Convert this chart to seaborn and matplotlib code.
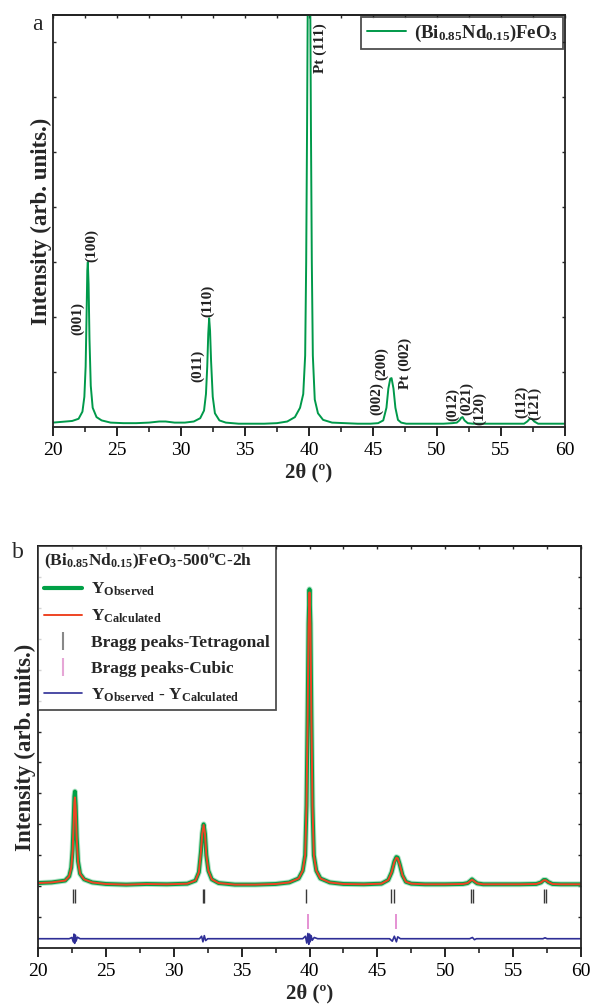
import numpy as np
import pandas as pd
import matplotlib
matplotlib.use("Agg")
import matplotlib.pyplot as plt
from matplotlib.lines import Line2D
import seaborn as sns

# ---------------- data (panel a) ----------------
two_theta_a = [20.0, 20.5, 21.0, 21.5, 22.0, 22.3, 22.45, 22.55, 22.62, 22.68, 22.72, 22.78,
               22.85, 22.95, 23.1, 23.4, 23.8, 24.5, 25.5, 26.5, 27.5, 28.3, 28.8, 29.5,
               30.3, 31.0, 31.5, 31.8, 31.95, 32.05, 32.13, 32.2, 32.27, 32.35, 32.48, 32.65,
               33.0, 33.5, 34.5, 35.5, 36.5, 37.5, 38.3, 38.9, 39.3, 39.55, 39.7, 39.78,
               39.85, 39.92, 40.0, 40.08, 40.15, 40.22, 40.3, 40.45, 40.7, 41.1, 41.8, 42.8,
               43.8, 44.8, 45.4, 45.8, 46.05, 46.2, 46.35, 46.45, 46.6, 46.75, 46.95, 47.2,
               47.6, 48.5, 49.5, 50.5, 51.2, 51.55, 51.75, 51.9, 52.0, 52.15, 52.4, 52.8,
               53.5, 54.5, 55.5, 56.3, 56.8, 57.05, 57.25, 57.4, 57.6, 57.9, 58.4, 59.0,
               59.5, 60.0]
intensity_a = [0.08, 0.09, 0.10, 0.11, 0.15, 0.28, 0.55, 1.10, 2.00, 2.85, 3.00, 2.60,
               1.60, 0.75, 0.35, 0.18, 0.12, 0.08, 0.07, 0.07, 0.08, 0.10, 0.10, 0.08,
               0.08, 0.10, 0.16, 0.30, 0.60, 1.10, 1.70, 1.98, 1.75, 1.20, 0.55, 0.25,
               0.12, 0.08, 0.06, 0.06, 0.06, 0.07, 0.10, 0.18, 0.35, 0.60, 1.30, 3.00,
               5.50, 8.50, 10.0, 8.50, 5.50, 3.00, 1.30, 0.50, 0.25, 0.13, 0.08, 0.07,
               0.06, 0.06, 0.07, 0.12, 0.35, 0.70, 0.88, 0.89, 0.70, 0.35, 0.13, 0.08,
               0.06, 0.06, 0.06, 0.06, 0.07, 0.08, 0.12, 0.17, 0.18, 0.12, 0.07, 0.06,
               0.06, 0.06, 0.06, 0.06, 0.06, 0.10, 0.15, 0.15, 0.10, 0.06, 0.06, 0.06,
               0.06, 0.06]
hkl_labels = ["(001)", "(100)", "(011)", "(110)", "Pt (111)", "(002)", "(200)", "Pt (002)",
              "(012)", "(021)", "(120)", "(112)", "(121)"]
hkl_x = [21.95, 23.05, 31.3, 32.1, 40.86, 45.3, 45.7, 47.5, 51.2, 52.3, 53.3, 56.6, 57.65]
hkl_y = [1.67, 3.0, 0.82, 2.0, 6.45, 0.22, 0.85, 0.69, 0.11, 0.22, 0.04, 0.16, 0.13]

# ---------------- data (panel b) ----------------
two_theta_b = [20.0, 21.0, 22.0, 22.3, 22.45, 22.55, 22.62, 22.68, 22.72, 22.78, 22.85, 22.95,
               23.1, 23.4, 24.0, 25.0, 26.5, 28.0, 29.5, 31.0, 31.6, 31.85, 32.0, 32.1,
               32.2, 32.3, 32.4, 32.55, 32.8, 33.3, 34.5, 36.0, 37.5, 38.5, 39.2, 39.5,
               39.68, 39.78, 39.86, 39.93, 40.0, 40.07, 40.14, 40.22, 40.32, 40.5, 40.8, 41.5,
               42.5, 44.0, 45.3, 45.8, 46.05, 46.25, 46.4, 46.5, 46.65, 46.85, 47.1, 47.5,
               48.5, 50.0, 51.3, 51.65, 51.85, 51.97, 52.1, 52.35, 52.8, 54.0, 55.5, 56.7,
               57.05, 57.25, 57.4, 57.6, 57.9, 58.5, 60.0]
y_observed = [2.10, 2.12, 2.18, 2.32, 2.60, 3.20, 4.10, 4.90, 5.06, 4.60, 3.60, 2.80,
              2.40, 2.22, 2.12, 2.07, 2.05, 2.07, 2.06, 2.08, 2.18, 2.45, 3.10, 3.70,
              4.00, 3.70, 3.00, 2.50, 2.22, 2.10, 2.05, 2.05, 2.07, 2.12, 2.25, 2.50,
              3.00, 4.60, 7.50, 10.5, 11.6, 10.5, 7.50, 4.60, 3.00, 2.50, 2.25, 2.12,
              2.07, 2.06, 2.08, 2.20, 2.45, 2.80, 2.94, 2.92, 2.70, 2.35, 2.14, 2.08,
              2.06, 2.06, 2.07, 2.10, 2.17, 2.22, 2.17, 2.09, 2.06, 2.06, 2.06, 2.07,
              2.12, 2.20, 2.20, 2.13, 2.07, 2.06, 2.06]
y_calculated = [2.10, 2.12, 2.18, 2.32, 2.60, 3.10, 3.95, 4.70, 4.87, 4.45, 3.55, 2.78,
                2.40, 2.22, 2.12, 2.07, 2.05, 2.07, 2.06, 2.08, 2.18, 2.45, 3.10, 3.70,
                3.98, 3.70, 3.00, 2.50, 2.22, 2.10, 2.05, 2.05, 2.07, 2.12, 2.25, 2.50,
                3.00, 4.60, 7.40, 10.4, 11.5, 10.4, 7.40, 4.60, 3.00, 2.50, 2.25, 2.12,
                2.07, 2.06, 2.08, 2.20, 2.45, 2.78, 2.92, 2.90, 2.70, 2.35, 2.14, 2.08,
                2.06, 2.06, 2.07, 2.10, 2.17, 2.21, 2.17, 2.09, 2.06, 2.06, 2.06, 2.07,
                2.12, 2.19, 2.19, 2.13, 2.07, 2.06, 2.06]
two_theta_diff = [20.0, 22.3, 22.5, 22.6, 22.65, 22.7, 22.75, 22.8, 22.9, 23.1, 31.9, 32.05,
                  32.15, 32.25, 32.35, 32.5, 39.5, 39.7, 39.8, 39.88, 39.95, 40.0, 40.05, 40.12,
                  40.2, 40.35, 40.6, 45.9, 46.1, 46.25, 46.4, 46.5, 46.7, 51.8, 52.0, 52.15,
                  52.3, 57.2, 57.35, 57.5, 60.0]
y_difference = [0.30, 0.30, 0.34, 0.20, 0.45, 0.15, 0.42, 0.22, 0.35, 0.30, 0.30, 0.38,
                0.20, 0.40, 0.24, 0.30, 0.30, 0.38, 0.16, 0.47, 0.12, 0.45, 0.20, 0.40,
                0.25, 0.34, 0.30, 0.30, 0.22, 0.38, 0.20, 0.36, 0.30, 0.30, 0.34, 0.27,
                0.30, 0.30, 0.33, 0.30, 0.30]
bragg_tetragonal = [22.55, 22.7, 32.17, 32.22, 39.75, 46.0, 46.2, 51.92, 52.05, 57.25, 57.4]
bragg_cubic = [39.9, 46.4]

# ---------------- style ----------------
sns.set_style("ticks")
plt.rcParams["font.family"] = ["Liberation Serif", "DejaVu Serif"]
plt.rcParams["mathtext.fontset"] = "custom"
plt.rcParams["mathtext.rm"] = "Liberation Serif:bold"
plt.rcParams["mathtext.it"] = "Liberation Serif:bold"
plt.rcParams["mathtext.bf"] = "Liberation Serif:bold"
plt.rcParams["axes.linewidth"] = 1.3

GREEN = "#00994a"
GREEN_B = "#00a046"
RED = "#ee4424"
NAVY = "#2e2e96"
PINK = "#e07fcc"
GRAY = "#3a3a3a"

fig = plt.figure(figsize=(5.9, 10.05), dpi=100)
ax_a = fig.add_axes([53 / 590, 1 - 427 / 1005, 512 / 590, 412 / 1005])
ax_b = fig.add_axes([38 / 590, 1 - 948 / 1005, 543 / 590, 402 / 1005])


def style_axes(ax, ymax, ylab_x):
    ax.set_xlim(20, 60)
    ax.set_ylim(0, ymax)
    ax.set_xticks(np.arange(20, 61, 5))
    ax.set_xticks(np.arange(22.5, 60, 5), minor=True)
    ax.set_yticks(np.arange(1, ymax, 1))
    ax.set_yticklabels([])
    ax.tick_params(axis="x", which="major", direction="out", length=6.5, width=1.2,
                   labelsize=14, pad=4.5, top=False, colors="black")
    ax.tick_params(axis="x", which="minor", direction="out", length=3.6, width=1.2, top=False)
    ax.tick_params(axis="y", which="major", direction="in", length=2.4, width=1.0,
                   left=True, right=True)
    top = ax.secondary_xaxis("top")
    top.set_xticks(np.arange(20, 61, 5))
    top.set_xticks(np.arange(22.5, 60, 5), minor=True)
    top.tick_params(axis="x", which="both", direction="in", length=2.4, width=1.0,
                    labelsize=0, labeltop=False)
    top.spines["top"].set_linewidth(1.3)
    for s in ax.spines.values():
        s.set_visible(True)
        s.set_linewidth(1.3)
        s.set_color("#222222")
    ax.set_xlabel("2θ (º)", fontsize=15, fontweight="bold", labelpad=2)
    ax.set_ylabel("Intensity (arb. units.)", fontsize=16.5, fontweight="bold")
    ax.yaxis.set_label_coords(ylab_x, 0.5)


# ---------------- panel a ----------------
df_a = pd.DataFrame({"two_theta": two_theta_a, "intensity": intensity_a})
sns.lineplot(data=df_a, x="two_theta", y="intensity", ax=ax_a, color=GREEN, lw=1.4,
             estimator=None, sort=False,
             label="(Bi$_{0.85}$Nd$_{0.15}$)FeO$_3$")
style_axes(ax_a, 7.5, -0.002)
for lab, xx, yy in zip(hkl_labels, hkl_x, hkl_y):
    ax_a.text(xx, yy, lab, rotation=90, ha="center", va="bottom", fontsize=11,
              fontweight="bold", color="#222222")
leg_a = ax_a.legend(loc="upper right", fontsize=13.5, frameon=True, fancybox=False,
                    edgecolor="#222222", borderaxespad=0.1, handlelength=2.1,
                    borderpad=0.3, handletextpad=0.4)
leg_a.get_frame().set_linewidth(1.3)
for t in leg_a.get_texts():
    t.set_fontweight("bold")
fig.text(37 / 590, 1 - 25 / 1005, "a", fontsize=17, ha="center", va="center")

# ---------------- panel b ----------------
df_b = pd.DataFrame({"two_theta": two_theta_b, "obs": y_observed, "calc": y_calculated})
sns.lineplot(data=df_b, x="two_theta", y="obs", ax=ax_b, color="#7fd0a0", lw=4.2,
             estimator=None, sort=False, alpha=0.6)
sns.lineplot(data=df_b, x="two_theta", y="obs", ax=ax_b, color=GREEN_B, lw=2.8,
             estimator=None, sort=False)
sns.lineplot(data=df_b, x="two_theta", y="calc", ax=ax_b, color=RED, lw=1.4,
             estimator=None, sort=False)
df_d = pd.DataFrame({"two_theta": two_theta_diff, "diff": y_difference})
sns.lineplot(data=df_d, x="two_theta", y="diff", ax=ax_b, color=NAVY, lw=1.2,
             estimator=None, sort=False)
ax_b.vlines(bragg_tetragonal, 1.45, 1.9, color=GRAY, lw=1.0)
ax_b.vlines(bragg_cubic, 0.6, 1.1, color=PINK, lw=1.2)
style_axes(ax_b, 13, -0.0045)

handles = [
    Line2D([], [], color=GREEN_B, lw=3.0),
    Line2D([], [], color=RED, lw=1.4),
    Line2D([], [], color="#888888", lw=0, marker="|", markersize=13, markeredgewidth=1.5),
    Line2D([], [], color="#e6a6d6", lw=0, marker="|", markersize=13, markeredgewidth=1.5),
    Line2D([], [], color=NAVY, lw=1.2),
]
labels = [
    r"Y$_{\mathrm{Observed}}$",
    r"Y$_{\mathrm{Calculated}}$",
    "Bragg peaks-Tetragonal",
    "Bragg peaks-Cubic",
    r"Y$_{\mathrm{Observed}}$ - Y$_{\mathrm{Calculated}}$",
]
leg_b = ax_b.legend(handles, labels, loc="upper left", fontsize=12.5, frameon=True,
                    fancybox=False, edgecolor="#222222", borderaxespad=0.0,
                    title="(Bi$_{0.85}$Nd$_{0.15}$)FeO$_3$-500ºC-2h",
                    title_fontproperties={"size": 12.5, "weight": "bold"},
                    alignment="left", handlelength=2.2, labelspacing=0.55,
                    borderpad=0.35, handletextpad=0.5)
leg_b.get_frame().set_linewidth(1.3)
for t in leg_b.get_texts():
    t.set_fontweight("bold")
fig.text(18 / 590, 1 - 553 / 1005, "b", fontsize=17, ha="center", va="center")

fig.savefig("out.png", dpi=100)
